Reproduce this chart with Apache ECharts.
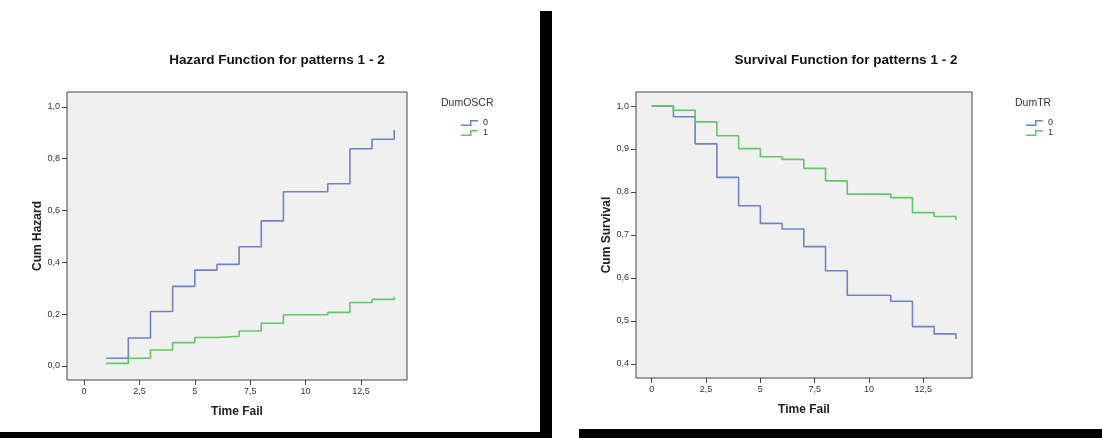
<!DOCTYPE html>
<html>
<head>
<meta charset="utf-8">
<script src="https://cdn.jsdelivr.net/npm/echarts@6/dist/echarts.min.js"></script>
<style>
  html, body { margin: 0; padding: 0; background: #fff; }
  #main { width: 1102px; height: 438px; }
</style>
</head>
<body>
<div id="main"></div>
<script>
// step points (time, value); last time repeated for the closing vertical tick
const hazardTimes = [1, 2, 3, 4, 5, 6, 7, 8, 9, 11, 12, 13, 14, 14];
const hazard0 = [0.03, 0.108, 0.21, 0.307, 0.37, 0.392, 0.46, 0.56, 0.672, 0.703, 0.838, 0.875, 0.875, 0.91];
const hazard1 = [0.01, 0.03, 0.062, 0.09, 0.11, 0.115, 0.135, 0.165, 0.198, 0.207, 0.245, 0.257, 0.257, 0.267];

const survTimes = [0, 1, 2, 3, 4, 5, 6, 7, 8, 9, 11, 12, 13, 14, 14];
const surv0 = [1.0, 0.975, 0.912, 0.834, 0.768, 0.727, 0.714, 0.673, 0.617, 0.56, 0.546, 0.487, 0.47, 0.47, 0.458];
const surv1 = [1.0, 0.99, 0.963, 0.931, 0.901, 0.882, 0.876, 0.855, 0.826, 0.795, 0.787, 0.752, 0.743, 0.743, 0.735];

const xTicks = [0, 2.5, 5, 7.5, 10, 12.5];
const hazardTicks = [0, 0.2, 0.4, 0.6, 0.8, 1.0];
const survTicks = [0.4, 0.5, 0.6, 0.7, 0.8, 0.9, 1.0];

const blue = "#6f82c9";
const green = "#62c662";
const font = "Liberation Sans, Arial, sans-serif";

const pairs = (xs, ys) => xs.map((x, i) => [x, ys[i]]);
const comma = v => String(v).replace(".", ",");
const comma1 = v => v.toFixed(1).replace(".", ",");

function xAxisFor(gridIndex, min, max) {
  return {
    type: "value",
    gridIndex: gridIndex,
    position: "bottom",
    min: min,
    max: max,
    name: "Time Fail",
    nameLocation: "middle",
    nameGap: 26,
    nameTextStyle: { fontFamily: font, fontSize: 12, fontWeight: "bold", color: "#222" },
    axisLine: { show: false, onZero: false },
    splitLine: { show: false },
    axisTick: { show: true, length: 5, customValues: xTicks, lineStyle: { color: "#444" } },
    axisLabel: {
      customValues: xTicks,
      formatter: comma,
      fontFamily: font,
      fontSize: 9,
      color: "#333",
      margin: 7
    }
  };
}

function yAxisFor(gridIndex, min, max, name, ticks) {
  return {
    type: "value",
    gridIndex: gridIndex,
    position: "left",
    min: min,
    max: max,
    name: name,
    nameLocation: "middle",
    nameGap: 22,
    nameTextStyle: { fontFamily: font, fontSize: 12, fontWeight: "bold", color: "#222" },
    axisLine: { show: false, onZero: false },
    splitLine: { show: false },
    axisTick: { show: true, length: 5, customValues: ticks, lineStyle: { color: "#444" } },
    axisLabel: {
      customValues: ticks,
      formatter: comma1,
      fontFamily: font,
      fontSize: 9,
      color: "#333",
      margin: 7
    }
  };
}

function legendFor(left) {
  return {
    orient: "vertical",
    left: left,
    top: 113,
    itemWidth: 17,
    itemHeight: 6,
    itemGap: 0,
    selectedMode: false,
    icon: "path://M0,4.5L9,4.5L9,0L17,0L17,1.5L10.5,1.5L10.5,6L0,6Z",
    itemStyle: { borderWidth: 0, opacity: 1 },
    data: [
      { name: "0", itemStyle: { color: blue } },
      { name: "1", itemStyle: { color: green } }
    ],
    textStyle: { fontFamily: font, fontSize: 9, color: "#333", lineHeight: 10 }
  };
}

function stepSeries(name, data, color, idx) {
  return {
    name: name,
    type: "line",
    step: "end",
    xAxisIndex: idx,
    yAxisIndex: idx,
    data: data,
    showSymbol: false,
    symbol: "none",
    color: color,
    itemStyle: { color: color },
    lineStyle: { color: color, width: 1.6 },
    silent: true,
    animation: false
  };
}

const chart = echarts.init(document.getElementById("main"));

const option = {
  backgroundColor: "#fff",
  animation: false,
  grid: [
    { left: 67, top: 92, width: 340, height: 288, show: true, backgroundColor: "#f0f0f0", borderColor: "#444", borderWidth: 1 },
    { left: 636, top: 92, width: 336, height: 286, show: true, backgroundColor: "#f0f0f0", borderColor: "#444", borderWidth: 1 }
  ],
  xAxis: [
    xAxisFor(0, -0.767, 14.576),
    xAxisFor(1, -0.722, 14.74)
  ],
  yAxis: [
    yAxisFor(0, -0.054, 1.057, "Cum Hazard", hazardTicks),
    yAxisFor(1, 0.3674, 1.0326, "Cum Survival", survTicks)
  ],
  legend: [legendFor(456), legendFor(1021)],
  graphic: [
    { type: "text", x: 277, y: 60, style: { text: "Hazard Function for patterns 1 - 2", font: "bold 13.5px " + font, fill: "#111", textAlign: "center", textVerticalAlign: "middle" } },
    { type: "text", x: 846, y: 60, style: { text: "Survival Function for patterns 1 - 2", font: "bold 13.5px " + font, fill: "#111", textAlign: "center", textVerticalAlign: "middle" } },
    { type: "text", x: 441, y: 103, style: { text: "DumOSCR", font: "10.5px " + font, fill: "#333", textVerticalAlign: "middle" } },
    { type: "text", x: 1015, y: 103, style: { text: "DumTR", font: "10.5px " + font, fill: "#333", textVerticalAlign: "middle" } },
    // page frame pieces
    { type: "rect", shape: { x: 540, y: 11, width: 12, height: 427 }, style: { fill: "#000" } },
    { type: "rect", shape: { x: 0, y: 432, width: 540, height: 6 }, style: { fill: "#000" } },
    { type: "rect", shape: { x: 579, y: 429, width: 523, height: 9 }, style: { fill: "#000" } }
  ],
  series: [
    stepSeries("0", pairs(hazardTimes, hazard0), blue, 0),
    stepSeries("1", pairs(hazardTimes, hazard1), green, 0),
    stepSeries("0", pairs(survTimes, surv0), blue, 1),
    stepSeries("1", pairs(survTimes, surv1), green, 1)
  ]
};

chart.setOption(option);
</script>
</body>
</html>
